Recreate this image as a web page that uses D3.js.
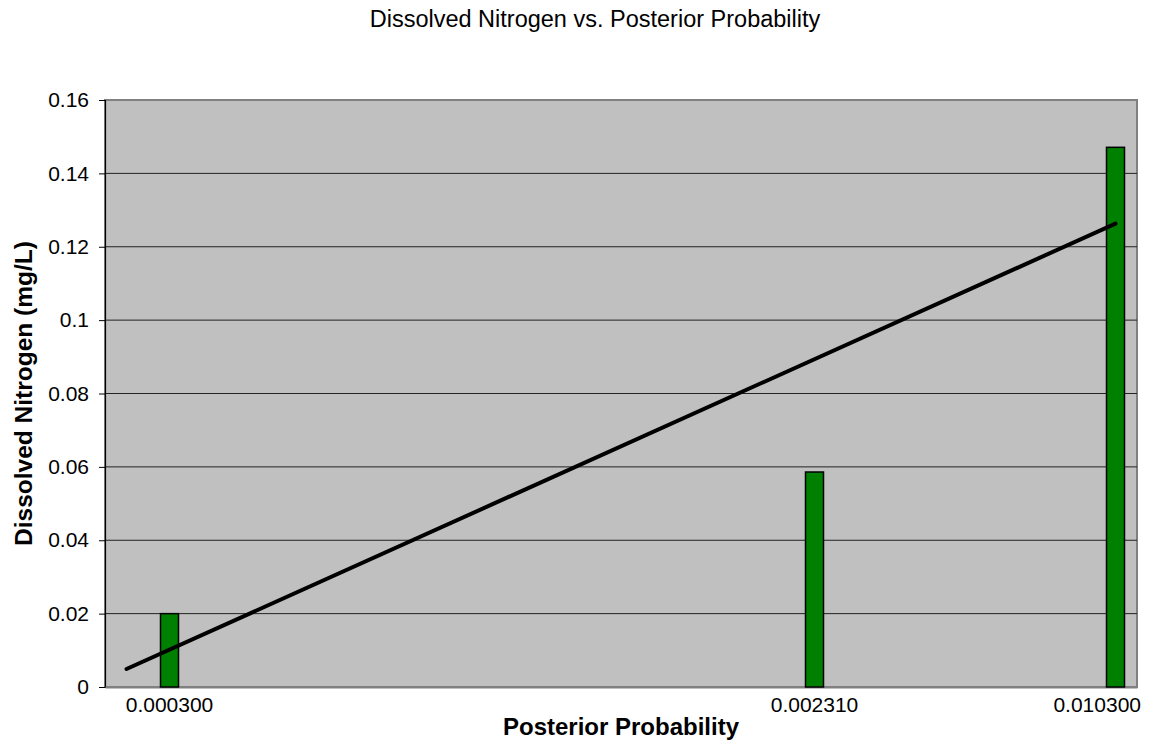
<!DOCTYPE html>
<html>
<head>
<meta charset="utf-8">
<script src="https://cdn.jsdelivr.net/npm/d3@7"></script>
<style>
  body { margin: 0; background: #fff; }
  svg { font-family: Arial, "Liberation Sans", sans-serif; }
</style>
</head>
<body>
<svg id="chart"></svg>
<script>
// 24 category slots on the x axis, only three carry a label and a bar
const categories = ['', '0.000300', '', '', '', '', '', '', '', '', '', '', '', '', '', '',
  '0.002310', '', '', '', '', '', '', '0.010300']
const barCategories = ['0.000300', '0.002310', '0.010300']
const nitrogen = [0.02, 0.0586, 0.1471]
// linear trendline, value at first and last category slot
const trendValues = [0.0049, 0.1263]
const yTicks = [0, 0.02, 0.04, 0.06, 0.08, 0.1, 0.12, 0.14, 0.16]

const width = 1152
const height = 746
const margin = { top: 100, right: 15, bottom: 59, left: 105 }
const innerW = 1137 - margin.left
const innerH = 687 - margin.top

const svg = d3.select('#chart')
  .attr('width', width)
  .attr('height', height)

// use index keys so blank slots stay distinct
const x = d3.scaleBand()
  .domain(categories.map((d, i) => i))
  .range([0, innerW])
  .paddingInner(0)
  .paddingOuter(0)

const y = d3.scaleLinear()
  .domain([0, 0.16])
  .range([innerH, 0])

const g = svg.append('g')
  .attr('transform', `translate(${margin.left}, ${margin.top})`)

// plot area
g.append('rect')
  .attr('width', innerW)
  .attr('height', innerH)
  .attr('fill', '#c0c0c0')
  .attr('stroke', '#808080')
  .attr('stroke-width', 2)

// gridlines
g.selectAll('.grid')
  .data(yTicks.filter((d) => d > 0 && d < 0.16))
  .enter()
  .append('line')
  .attr('class', 'grid')
  .attr('x1', 0)
  .attr('x2', innerW)
  .attr('y1', (d) => y(d))
  .attr('y2', (d) => y(d))
  .attr('stroke', '#222')
  .attr('stroke-width', 1)

// y axis
const yAxis = g.append('g')
  .call(d3.axisLeft(y).tickValues(yTicks).tickSize(6).tickPadding(10)
    .tickFormat((d) => d === 0 ? '0' : String(+d.toFixed(2))))
yAxis.select('.domain').attr('stroke', '#000').attr('stroke-width', 1.2)
yAxis.selectAll('.tick line').attr('stroke', '#000')
yAxis.selectAll('.tick text')
  .attr('font-size', 21)
  .attr('font-family', 'Arial, "Liberation Sans", sans-serif')
  .attr('fill', '#000')

// x axis
const xAxis = g.append('g')
  .attr('transform', `translate(0, ${innerH})`)
  .call(d3.axisBottom(x).tickSize(0).tickPadding(10)
    .tickFormat((i) => categories[i]))
xAxis.select('.domain').attr('stroke', '#808080').attr('stroke-width', 2)
xAxis.selectAll('.tick text')
  .attr('font-size', 21)
  .attr('font-family', 'Arial, "Liberation Sans", sans-serif')
  .attr('fill', '#000')

// keep labels inside the chart, like the spreadsheet does at the right edge
xAxis.selectAll('.tick').each(function () {
  const t = d3.select(this).select('text')
  const node = t.node()
  if (!node || !node.textContent) return
  const box = node.getBoundingClientRect()
  const overflow = box.right - (width - 11)
  if (overflow > 0) t.attr('x', -overflow)
})

// bars
const barW = 18
g.selectAll('.bar')
  .data(barCategories)
  .enter()
  .append('rect')
  .attr('class', 'bar')
  .attr('x', (d) => x(categories.indexOf(d)) + x.bandwidth() / 2 - barW / 2)
  .attr('y', (d, i) => y(nitrogen[i]))
  .attr('width', barW)
  .attr('height', (d, i) => innerH - y(nitrogen[i]))
  .attr('fill', '#008000')
  .attr('stroke', '#000')
  .attr('stroke-width', 1.5)

// trendline
const trendPts = [
  [0, trendValues[0]],
  [categories.length - 1, trendValues[1]]
]
g.append('path')
  .datum(trendPts)
  .attr('fill', 'none')
  .attr('stroke', '#000')
  .attr('stroke-width', 4)
  .attr('stroke-linecap', 'round')
  .attr('d', d3.line()
    .x((d) => x(d[0]) + x.bandwidth() / 2)
    .y((d) => y(d[1])))

// titles
svg.append('text')
  .attr('x', 595)
  .attr('y', 27)
  .attr('text-anchor', 'middle')
  .attr('font-size', 23.5)
  .text('Dissolved Nitrogen vs. Posterior Probability')

svg.append('text')
  .attr('x', margin.left + innerW / 2)
  .attr('y', 735)
  .attr('text-anchor', 'middle')
  .attr('font-size', 24)
  .attr('font-weight', 'bold')
  .text('Posterior Probability')

svg.append('text')
  .attr('transform', `translate(32, ${margin.top + innerH / 2}) rotate(-90)`)
  .attr('text-anchor', 'middle')
  .attr('font-size', 24.5)
  .attr('font-weight', 'bold')
  .text('Dissolved Nitrogen (mg/L)')
</script>
</body>
</html>
